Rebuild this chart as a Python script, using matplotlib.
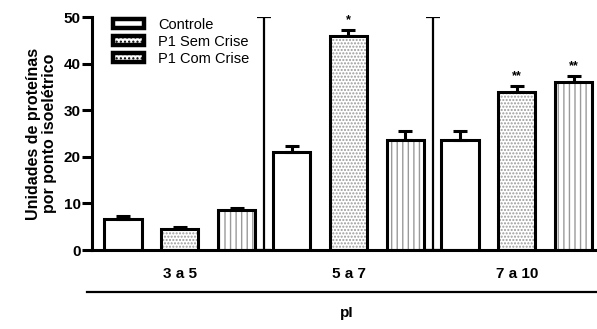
import matplotlib
matplotlib.use("Agg")
import matplotlib.pyplot as plt
from matplotlib.patches import Patch
import numpy as np

plt.rcParams['font.family'] = ['Liberation Sans', 'DejaVu Sans']

groups = ["3 a 5", "5 a 7", "7 a 10"]
series = ["Controle", "P1 Sem Crise", "P1 Com Crise"]
controle = [6.6, 21.0, 23.5]
controle_err = [0.6, 1.3, 2.0]
sem_crise = [4.5, 46.0, 34.0]
sem_crise_err = [0.5, 1.3, 1.2]
com_crise = [8.5, 23.5, 36.0]
com_crise_err = [0.6, 2.0, 1.3]
stars_sem = ["", "*", "**"]
stars_com = ["", "", "**"]

fig = plt.figure(figsize=(5.97, 3.29), dpi=100)
ax = fig.add_axes([92/597, 1-250/329, 1-92/597, 233/329])

x = np.arange(len(groups))
off = 0.338
w = 0.22
lw = 2.2
vals = [controle, sem_crise, com_crise]
errs = [controle_err, sem_crise_err, com_crise_err]
hatches = [None, '.....', '|||']
hcols = ['white', '#9a9a9a', '#9a9a9a']

for k in range(3):
    xp = x + (k - 1) * off
    if hatches[k]:
        ax.bar(xp, vals[k], w, color='white', edgecolor=hcols[k], hatch=hatches[k], linewidth=0, zorder=2)
    ax.bar(xp, vals[k], w, facecolor='none', edgecolor='black', linewidth=lw, zorder=3)
    ax.errorbar(xp, vals[k], yerr=[np.zeros(3), errs[k]], fmt='none', ecolor='black',
                elinewidth=lw, capsize=5, capthick=lw, zorder=1)

# significance stars
for i in range(3):
    if stars_sem[i]:
        ax.text(x[i], sem_crise[i] + sem_crise_err[i] + 0.8, stars_sem[i], ha='center', va='bottom', fontsize=9, fontweight='bold')
    if stars_com[i]:
        ax.text(x[i] + off, com_crise[i] + com_crise_err[i] + 0.8, stars_com[i], ha='center', va='bottom', fontsize=9, fontweight='bold')

# separator lines
for s in [0.5, 1.5]:
    ax.errorbar([s], [0], yerr=[[0], [50]], fmt='none', ecolor='black', elinewidth=1.6, capsize=5, capthick=1.6)

ax.set_xlim(-0.522, 2.475)
ax.set_ylim(0, 50)
ax.set_yticks([0, 10, 20, 30, 40, 50])
ax.set_xticks(x)
ax.set_xticklabels(groups, fontsize=11, fontweight='bold')
ax.tick_params(axis='x', length=0, pad=12)
ax.tick_params(axis='y', length=7, width=lw, labelsize=11, pad=1)
for lab in ax.get_yticklabels():
    lab.set_fontweight('bold')
ax.spines['top'].set_visible(False)
ax.spines['right'].set_visible(False)
ax.spines['left'].set_linewidth(lw)
ax.spines['bottom'].set_linewidth(lw)

ax.set_ylabel("Unidades de proteínas\npor ponto isoelétrico", fontsize=11.5, fontweight='bold', labelpad=5,
              linespacing=1.1)

# lower line and pI label
ax.plot([-0.01, 1.0], [-42/233, -42/233], transform=ax.transAxes, color='black', lw=1.6, clip_on=False)
fig.text(347/597, 1-313/329, "pI", ha='center', va='center', fontsize=11, fontweight='bold')

handles = [Patch(facecolor='white', edgecolor='black', linewidth=3.2, hatch=h) for h in [None, '....', '....']]
leg = ax.legend(handles, series, loc='upper left', bbox_to_anchor=(0.042, 0.997), frameon=False, fontsize=10.5,
                handlelength=2.1, handleheight=0.55, handletextpad=1.0, labelspacing=0.2,
                borderaxespad=0, borderpad=0)

fig.savefig("out.png", dpi=100)
